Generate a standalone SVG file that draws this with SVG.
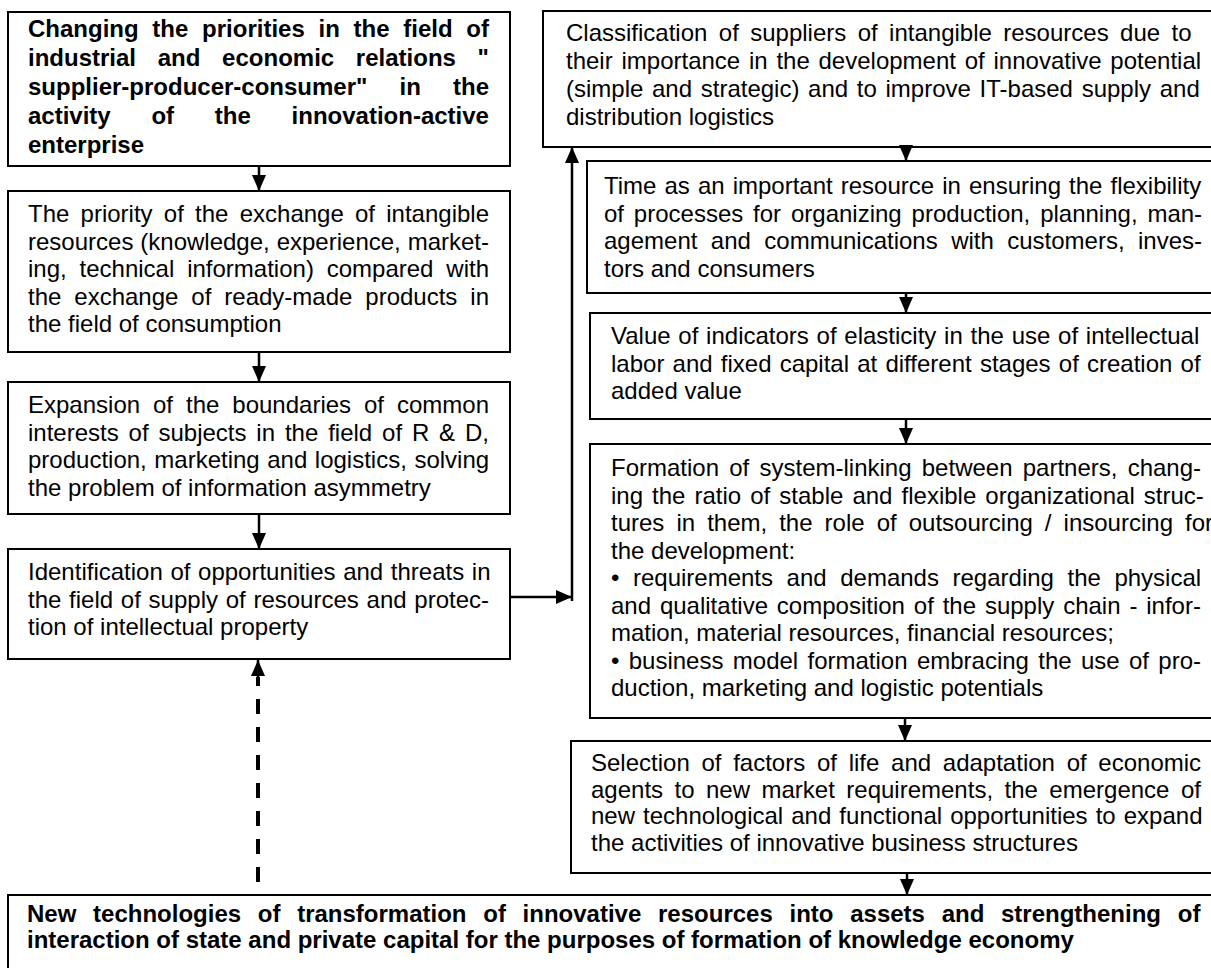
<svg xmlns="http://www.w3.org/2000/svg" width="1211" height="968" viewBox="0 0 1211 968">
<style>
.box{fill:#fff;stroke:#000;stroke-width:2}
.t{font-family:"Liberation Sans",Arial,sans-serif;font-size:24px;fill:#000}
.b{font-weight:bold}
.c{fill:none;stroke:#000;stroke-width:2.5}
.d{fill:none;stroke:#000;stroke-width:4;stroke-dasharray:15 13}
</style>
<defs>
<marker id="ah" markerUnits="userSpaceOnUse" markerWidth="16" markerHeight="16" viewBox="0 0 16 16" refX="16" refY="8" orient="auto">
<path d="M0,1 L16,8 L0,15 Z" fill="#000"/>
</marker>
</defs>
<rect width="1211" height="968" fill="#fff"/>

<g id="n1">
<rect class="box" x="8" y="12" width="502" height="154"/>
<text class="t b" x="28" y="37" word-spacing="7.05">Changing the priorities in the field of</text>
<text class="t b" x="28" y="66" word-spacing="15.05">industrial and economic relations "</text>
<text class="t b" x="28" y="95" word-spacing="25.45">supplier-producer-consumer" in the</text>
<text class="t b" x="28" y="124" word-spacing="34.07">activity of the innovation-active</text>
<text class="t b" x="28" y="153">enterprise</text>
</g>

<g id="n2">
<rect class="box" x="8" y="191" width="502" height="161"/>
<text class="t" x="28" y="222" word-spacing="4.57">The priority of the exchange of intangible</text>
<text class="t" x="28" y="249.5" word-spacing="0.27">resources (knowledge, experience, market-</text>
<text class="t" x="28" y="277" word-spacing="6.2">ing, technical information) compared with</text>
<text class="t" x="28" y="304.5" word-spacing="6.28">the exchange of ready-made products in</text>
<text class="t" x="28" y="332">the field of consumption</text>
</g>

<g id="n3">
<rect class="box" x="8" y="382" width="502" height="132"/>
<text class="t" x="28" y="413" word-spacing="6.28">Expansion of the boundaries of common</text>
<text class="t" x="28" y="440.5" word-spacing="3.2">interests of subjects in the field of R &amp; D,</text>
<text class="t" x="28" y="468" word-spacing="0.88">production, marketing and logistics, solving</text>
<text class="t" x="28" y="495.5">the problem of information asymmetry</text>
</g>

<g id="n4">
<rect class="box" x="8" y="549" width="502" height="110"/>
<text class="t" x="28" y="580" word-spacing="0.98">Identification of opportunities and threats in</text>
<text class="t" x="28" y="607.5" word-spacing="1.06">the field of supply of resources and protec-</text>
<text class="t" x="28" y="635">tion of intellectual property</text>
</g>

<g id="n5">
<rect class="box" x="543" y="11" width="680" height="136"/>
<text class="t" x="566" y="41" word-spacing="4.74">Classification of suppliers of intangible resources due to</text>
<text class="t" x="566" y="69" word-spacing="2.1">their importance in the development of innovative potential</text>
<text class="t" x="566" y="97" word-spacing="2.01">(simple and strategic) and to improve IT-based supply and</text>
<text class="t" x="566" y="125">distribution logistics</text>
</g>

<g id="n6">
<rect class="box" x="587" y="161" width="636" height="132"/>
<text class="t" x="604" y="194" word-spacing="1.39">Time as an important resource in ensuring the flexibility</text>
<text class="t" x="604" y="221.5" word-spacing="3.18">of processes for organizing production, planning, man-</text>
<text class="t" x="604" y="249" word-spacing="6.76">agement and communications with customers, inves-</text>
<text class="t" x="604" y="276.5">tors and consumers</text>
</g>

<g id="n7">
<rect class="box" x="590" y="313" width="633" height="106"/>
<text class="t" x="611" y="344" word-spacing="1.08">Value of indicators of elasticity in the use of intellectual</text>
<text class="t" x="611" y="371.5" word-spacing="1.52">labor and fixed capital at different stages of creation of</text>
<text class="t" x="611" y="399">added value</text>
</g>

<g id="n8">
<rect class="box" x="590" y="444" width="633" height="274"/>
<text class="t" x="611" y="476" word-spacing="3.56">Formation of system-linking between partners, chang-</text>
<text class="t" x="611" y="503.5" word-spacing="2.39">ing the ratio of stable and flexible organizational struc-</text>
<text class="t" x="611" y="531" word-spacing="5.38">tures in them, the role of outsourcing / insourcing for</text>
<text class="t" x="611" y="558.5">the development:</text>
<text class="t" x="611" y="586" word-spacing="6.9">• requirements and demands regarding the physical</text>
<text class="t" x="611" y="613.5" word-spacing="2.2">and qualitative composition of the supply chain - infor-</text>
<text class="t" x="611" y="641">mation, material resources, financial resources;</text>
<text class="t" x="611" y="668.5" word-spacing="2.67">• business model formation embracing the use of pro-</text>
<text class="t" x="611" y="696">duction, marketing and logistic potentials</text>
</g>

<g id="n9">
<rect class="box" x="571" y="741" width="652" height="132"/>
<text class="t" x="591" y="771" word-spacing="5.05">Selection of factors of life and adaptation of economic</text>
<text class="t" x="591" y="797.5" word-spacing="4.8">agents to new market requirements, the emergence of</text>
<text class="t" x="591" y="824" word-spacing="1.4">new technological and functional opportunities to expand</text>
<text class="t" x="591" y="850.5">the activities of innovative business structures</text>
</g>

<g id="n10">
<rect class="box" x="8" y="895" width="1215" height="80"/>
<text class="t b" x="27" y="922" word-spacing="10.05">New technologies of transformation of innovative resources into assets and strengthening of</text>
<text class="t b" x="27" y="948">interaction of state and private capital for the purposes of formation of knowledge economy</text>
</g>

<g id="connectors">
<line class="c" x1="259" y1="166" x2="259" y2="191" marker-end="url(#ah)"/>
<line class="c" x1="259" y1="352" x2="259" y2="382" marker-end="url(#ah)"/>
<line class="c" x1="259" y1="514" x2="259" y2="549" marker-end="url(#ah)"/>
<line class="c" x1="510" y1="597" x2="572" y2="597" stroke-width="3" marker-end="url(#ah)"/>
<line class="c" x1="572" y1="601" x2="572" y2="147" marker-end="url(#ah)"/>
<line class="c" x1="906" y1="147" x2="906" y2="161" marker-end="url(#ah)"/>
<line class="c" x1="906" y1="293" x2="906" y2="313" marker-end="url(#ah)"/>
<line class="c" x1="906" y1="419" x2="906" y2="444" marker-end="url(#ah)"/>
<line class="c" x1="905" y1="718" x2="905" y2="741" marker-end="url(#ah)"/>
<line class="c" x1="907" y1="873" x2="907" y2="895" marker-end="url(#ah)"/>
<line class="d" x1="258" y1="882" x2="258" y2="677"/>
<line class="c" x1="258" y1="680" x2="258" y2="660" marker-end="url(#ah)"/>
</g>
</svg>
